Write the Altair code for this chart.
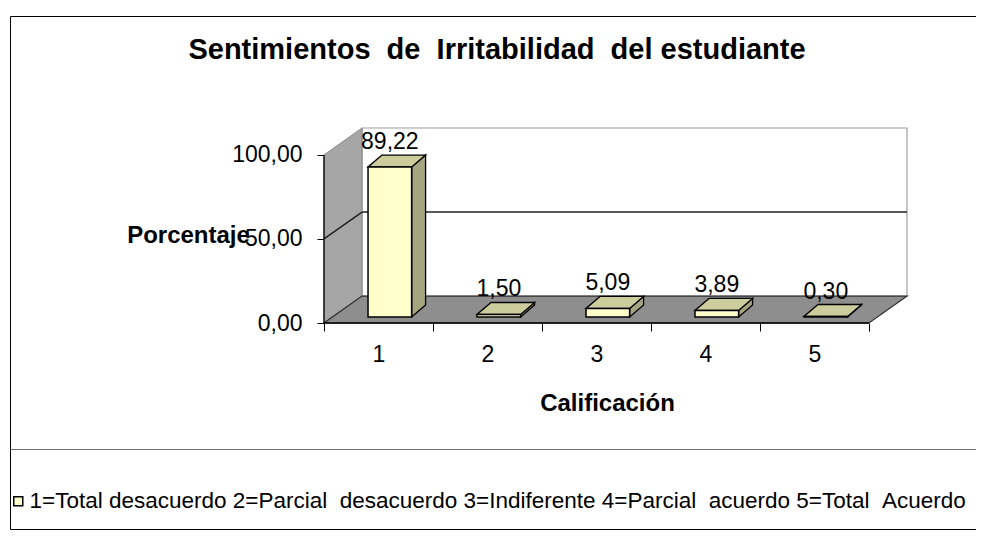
import json
import altair as alt
import pandas as pd

# ---- data ----
categories = ["1", "2", "3", "4", "5"]
values = [89.22, 1.50, 5.09, 3.89, 0.30]
y_ticks = [0, 50, 100]
grid_values = [50]
chart_title = "Sentimientos  de  Irritabilidad  del estudiante"
x_title = "Calificación"
y_title = "Porcentaje"
legend_label = "1=Total desacuerdo 2=Parcial  desacuerdo 3=Indiferente 4=Parcial  acuerdo 5=Total  Acuerdo"


def keep_spaces(s):
    # SVG collapses repeated spaces; keep the double spaces visible
    return s.replace("  ", " \u00a0")


# ---- 3D look (style constants, in data units) ----
DX, DY = 0.349, 16.0          # depth of the walls
BAR_LEFT, BAR_W = 0.404, 0.40 # bar front face inside its category
BY0 = 3.6                      # bar front sits a bit back on the floor
BDX, BDY = 0.128, 7.1          # bar depth
N = len(categories)
XMAX = N + DX
YMAX = max(y_ticks) + DY
FONT = "Liberation Sans"

xscale = alt.Scale(domain=[0, XMAX], nice=False, zero=False)
yscale = alt.Scale(domain=[0, YMAX], nice=False, zero=False)

cat_js = json.dumps(categories)
x_axis = alt.Axis(
    values=[k * 0.5 for k in range(2 * N + 1)],
    labelExpr=f"datum.value % 1 ? {cat_js}[floor(datum.value)] : ''",
    tickOpacity={"condition": {"test": "datum.value % 1 != 0", "value": 0}, "value": 1},
    tickSize=8, tickColor="black", domain=False, grid=False,
    labelPadding=12, labelFontSize=23, labelFont=FONT, labelColor="black",
    labelOverlap=False, labelFlush=False,
    title=x_title, titleFont=FONT, titleFontSize=24, titleFontWeight="bold",
    titleColor="black", titleX=283, titleY=80, titleAlign="center",
    titleBaseline="middle",
)
y_axis = alt.Axis(
    values=y_ticks,
    labelExpr="replace(format(datum.value, '.2f'), '.', ',')",
    tickSize=7, tickColor="black", domain=False, grid=False,
    labelPadding=15, labelFontSize=23, labelFont=FONT, labelColor="black",
    labelOverlap=False, labelFlush=False,
    title=y_title, titleFont=FONT, titleFontSize=24, titleFontWeight="bold",
    titleColor="black", titleAngle=0, titleX=-136, titleY=107,
    titleAlign="center", titleBaseline="middle",
)


def X(f):
    return alt.X(f, type="quantitative", scale=xscale, axis=x_axis)


def Y(f):
    return alt.Y(f, type="quantitative", scale=yscale, axis=y_axis)


# back wall
back_df = pd.DataFrame({"x": [DX], "x2": [XMAX], "y": [DY], "y2": [YMAX]})
back = alt.Chart(back_df).mark_rect(fill="white", stroke="#a0a0a0", strokeWidth=1.2).encode(
    x=X("x"), x2="x2", y=Y("y"), y2="y2")

# side wall
side_df = pd.DataFrame({"x": [0, DX], "y": [0, DY], "y2": [max(y_ticks), YMAX]})
side = alt.Chart(side_df).mark_area(orient="vertical", fill="#a6a6a6", stroke="#8a8a8a",
                                    strokeWidth=1, opacity=1).encode(
    x=X("x"), y=Y("y"), y2="y2")

# floor
floor_df = pd.DataFrame({"y": [0, DY], "x": [0, DX], "x2": [N, XMAX]})
floor = alt.Chart(floor_df).mark_area(orient="horizontal", fill="#8e8e8e", stroke="#303030",
                                      strokeWidth=1.2, opacity=1).encode(
    y=Y("y"), x=X("x"), x2="x2")

# gridlines (back wall + side wall)
grid_rows = []
for g in grid_values:
    grid_rows.append({"x": DX, "x2": XMAX, "y": g + DY, "y2": g + DY})
    grid_rows.append({"x": 0, "x2": DX, "y": g, "y2": g + DY})
grid = alt.Chart(pd.DataFrame(grid_rows)).mark_rule(color="#202020", strokeWidth=1.5).encode(
    x=X("x"), x2="x2", y=Y("y"), y2="y2")

# axis lines
axl = pd.DataFrame([
    {"x": 0, "x2": 0, "y": 0, "y2": max(y_ticks)},
    {"x": 0, "x2": N, "y": 0, "y2": 0},
])
axes_lines = alt.Chart(axl).mark_rule(color="black", strokeWidth=1.3).encode(
    x=X("x"), x2="x2", y=Y("y"), y2="y2")

# bars
side_rows, top_rows, front_rows = [], [], []
for i, (c, v) in enumerate(zip(categories, values)):
    xl = i + BAR_LEFT
    xr = xl + BAR_W
    side_rows += [
        {"cat": c, "x": xr, "y": BY0, "y2": BY0 + v},
        {"cat": c, "x": xr + BDX, "y": BY0 + BDY, "y2": BY0 + v + BDY},
    ]
    top_rows += [
        {"cat": c, "y": BY0 + v, "x": xl, "x2": xr},
        {"cat": c, "y": BY0 + v + BDY, "x": xl + BDX, "x2": xr + BDX},
    ]
    front_rows.append({
        "cat": c, "x": xl, "x2": xr, "y": BY0, "y2": BY0 + v,
        "serie": keep_spaces(legend_label),
        "xc": (xl + xr) / 2, "ylab": BY0 + v + BDY,
        "label": f"{v:.2f}".replace(".", ","),
    })

bar_side = alt.Chart(pd.DataFrame(side_rows)).mark_area(
    orient="vertical", fill="#a5a580", stroke="black", strokeWidth=1.3, opacity=1).encode(
    x=X("x"), y=Y("y"), y2="y2", detail="cat:N")
bar_top = alt.Chart(pd.DataFrame(top_rows)).mark_area(
    orient="horizontal", fill="#cccc9c", stroke="black", strokeWidth=1.3, opacity=1).encode(
    y=Y("y"), x=X("x"), x2="x2", detail="cat:N")

front_df = pd.DataFrame(front_rows)
bar_front = alt.Chart(front_df).mark_rect(stroke="black", strokeWidth=1.5, opacity=1).encode(
    x=X("x"), x2="x2", y=Y("y"), y2="y2",
    color=alt.Color("serie:N",
                    scale=alt.Scale(domain=[keep_spaces(legend_label)], range=["#ffffcc"]),
                    legend=alt.Legend(
                        orient="none", legendX=-317, legendY=362, title=None,
                        symbolType="square", symbolSize=81, symbolStrokeColor="black",
                        symbolStrokeWidth=1.5, symbolOpacity=1,
                        labelFontSize=22.5, labelFont=FONT, labelColor="black",
                        labelLimit=3000, labelOffset=0)),
)

labels = alt.Chart(front_df).mark_text(
    fontSize=23, font=FONT, baseline="alphabetic", align="center", dy=-6, color="black").encode(
    x=X("xc"), y=Y("ylab"), text="label:N")

# outer frame and legend box
one = pd.DataFrame({"k": [0]})
frame = alt.Chart(one).mark_rect(fillOpacity=0, stroke="black", strokeWidth=1).encode(
    x=alt.value(-313.5), x2=alt.value(700), y=alt.value(-111.5), y2=alt.value(401.5))
divider = alt.Chart(one).mark_rule(color="#707070", strokeWidth=1.2).encode(
    x=alt.value(-313.5), x2=alt.value(700), y=alt.value(321.5))

chart = alt.layer(
    frame, divider, back, side, floor, grid, axes_lines, bar_side, bar_top, bar_front, labels
).properties(
    width=583, height=195,
    padding={"left": 316, "top": 120, "right": 69, "bottom": 207},
    autosize=alt.AutoSizeParams(type="none"),
    title=alt.TitleParams(text=keep_spaces(chart_title), font=FONT, fontSize=29,
                          fontWeight="bold", color="black", anchor="middle", frame="group",
                          dx=-118.5, offset=-72, baseline="alphabetic"),
).configure_view(stroke=None)

chart.save("out.html", embed_options={"renderer": "svg", "actions": False})
